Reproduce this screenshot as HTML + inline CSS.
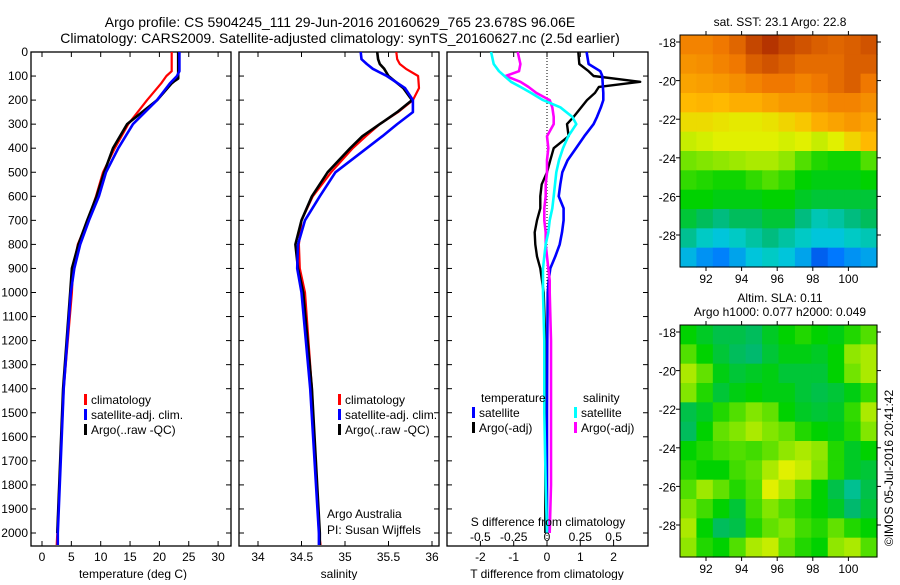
<!DOCTYPE html>
<html><head><meta charset="utf-8"><style>
html,body{margin:0;padding:0;background:#fff;}
svg text{font-family:"Liberation Sans",sans-serif;fill:#000;}
</style></head><body>
<svg id="fig" width="900" height="580" viewBox="0 0 900 580" xmlns="http://www.w3.org/2000/svg">
<text x="340" y="27" font-size="14" text-anchor="middle">Argo profile: CS 5904245_111 29-Jun-2016 20160629_765 23.678S 96.06E</text>
<text x="340" y="43" font-size="14" text-anchor="middle">Climatology: CARS2009. Satellite-adjusted climatology: synTS_20160627.nc (2.5d earlier)</text>
<g id="p1"></g>
<g id="p2"></g>
<g id="p3"></g>
<g id="m1"></g>
<g id="m2"></g>
<text x="780" y="26" font-size="12" text-anchor="middle">sat. SST: 23.1  Argo: 22.8</text>
<text x="780" y="302" font-size="12" text-anchor="middle">Altim. SLA: 0.11</text>
<text x="780" y="316" font-size="12" text-anchor="middle">Argo h1000: 0.077 h2000: 0.049</text>
<text x="0" y="0" font-size="12" text-anchor="middle" transform="translate(893,468) rotate(-90)">©IMOS 05-Jul-2016 20:41:42</text>
</svg>
<script>
// ---------- data ----------
const depthT = [0,80,100,130,200,300,400,500,600,700,800,900,1000,1400,2000,2050];
const tempClim = [22.1,22.1,21.2,20.3,17.9,14.7,12.4,10.4,9.2,7.8,6.1,5.3,5.1,3.7,2.6,2.5];
const tempSat  = [23.4,23.4,23.0,21.8,19.6,15.5,13.0,10.9,9.7,8.0,6.5,5.5,4.9,3.7,2.7,2.7];
const depthArgo = [0,50,110,120,130,200,300,400,500,600,700,800,900,1000,1400,2000];
const tempArgo = [23.2,23.2,23.2,22.6,22.1,19.6,14.5,12.1,10.6,9.3,7.7,6.2,5.1,4.8,3.6,2.6];
const depthS = [0,30,50,70,100,150,200,250,300,350,400,500,600,700,800,900,1000,1400,2000,2050];
const salClim = [35.59,35.60,35.63,35.70,35.84,35.85,35.78,35.61,35.40,35.24,35.09,34.84,34.63,34.50,34.47,34.48,34.54,34.62,34.70,34.72];
const salSat  = [35.18,35.19,35.25,35.32,35.48,35.69,35.78,35.78,35.60,35.43,35.25,34.89,34.71,34.54,34.46,34.45,34.50,34.60,34.70,34.70];
const salArgo = [35.37,35.38,35.40,35.45,35.50,35.67,35.77,35.60,35.40,35.20,35.06,34.80,34.62,34.50,34.43,34.46,34.52,34.62,34.71,34.71];
const depthD = [0,50,80,100,124,145,170,200,230,270,300,350,400,450,500,550,600,650,700,750,800,850,900,950,1000,1200,1500,1800,2000];
const dTArgo = [0.94,0.97,1.25,1.4,2.8,1.56,1.44,1.2,1.03,0.8,0.6,0.65,0.2,0.1,0.0,-0.16,-0.2,-0.2,-0.3,-0.37,-0.35,-0.3,-0.2,-0.15,-0.1,-0.05,-0.05,-0.05,-0.05];
const dTSat  = [1.19,1.25,1.6,1.66,1.67,1.68,1.69,1.69,1.62,1.5,1.4,1.12,0.87,0.62,0.46,0.4,0.35,0.5,0.5,0.45,0.38,0.25,0.1,0.05,0.02,0.01,0.0,0.0,0.0];
const dSSat  = [-0.42,-0.4,-0.36,-0.32,-0.27,-0.2,-0.12,-0.03,0.1,0.19,0.22,0.16,0.12,0.09,0.07,0.06,0.05,0.04,0.02,0.01,-0.01,-0.02,-0.03,-0.03,-0.03,-0.02,-0.02,-0.01,0.0];
const dSArgo = [-0.22,-0.2,-0.21,-0.31,-0.2,-0.14,-0.08,0.02,0.04,0.05,0.05,0.0,0.01,0.0,0.0,-0.01,-0.01,-0.02,-0.02,-0.01,-0.01,0.0,0.01,0.02,0.02,0.03,0.03,0.03,0.02];
const depthTicks = [0,100,200,300,400,500,600,700,800,900,1000,1100,1200,1300,1400,1500,1600,1700,1800,1900,2000];
const tempTicks = [0,5,10,15,20,25,30];
const salTicks = [34,34.5,35,35.5,36];
const dTTicks = [-2,-1,0,1,2];
const dSTicks = [-0.5,-0.25,0,0.25,0.5];
const dSTickLabels = ['-0.5','-0.25','0','0.25','0.5'];
const mapLon = [92,94,96,98,100];
const mapLat = [-18,-20,-22,-24,-26,-28];
const sstGrid = [
[0.80,0.80,0.82,0.85,0.90,0.93,0.90,0.88,0.86,0.85,0.86,0.88],
[0.77,0.78,0.80,0.82,0.86,0.88,0.86,0.84,0.84,0.84,0.86,0.86],
[0.74,0.75,0.76,0.78,0.80,0.82,0.82,0.80,0.82,0.84,0.86,0.82],
[0.70,0.71,0.70,0.72,0.72,0.74,0.76,0.76,0.78,0.80,0.80,0.78],
[0.65,0.65,0.64,0.63,0.63,0.64,0.66,0.68,0.72,0.74,0.76,0.74],
[0.60,0.61,0.62,0.62,0.62,0.62,0.61,0.62,0.60,0.62,0.66,0.70],
[0.54,0.55,0.56,0.57,0.58,0.58,0.56,0.52,0.49,0.48,0.48,0.52],
[0.50,0.49,0.48,0.48,0.50,0.52,0.50,0.47,0.46,0.46,0.46,0.47],
[0.47,0.47,0.46,0.46,0.46,0.47,0.47,0.45,0.44,0.44,0.44,0.44],
[0.44,0.42,0.40,0.42,0.42,0.44,0.44,0.40,0.37,0.38,0.40,0.42],
[0.39,0.36,0.34,0.36,0.38,0.40,0.38,0.36,0.34,0.34,0.36,0.37],
[0.32,0.28,0.26,0.30,0.34,0.36,0.34,0.30,0.22,0.25,0.28,0.30]];
const slaGrid = [
[0.47,0.45,0.43,0.43,0.42,0.45,0.47,0.49,0.47,0.46,0.49,0.52],
[0.52,0.47,0.44,0.42,0.41,0.44,0.46,0.46,0.45,0.47,0.56,0.58],
[0.58,0.53,0.46,0.44,0.45,0.46,0.44,0.44,0.44,0.47,0.54,0.58],
[0.55,0.49,0.44,0.46,0.47,0.46,0.46,0.44,0.43,0.44,0.46,0.50],
[0.43,0.45,0.49,0.52,0.55,0.53,0.47,0.45,0.44,0.45,0.50,0.58],
[0.42,0.47,0.53,0.55,0.58,0.55,0.53,0.49,0.47,0.46,0.49,0.55],
[0.47,0.49,0.51,0.52,0.51,0.53,0.56,0.58,0.56,0.49,0.45,0.47],
[0.49,0.47,0.47,0.51,0.53,0.58,0.62,0.60,0.55,0.49,0.45,0.44],
[0.52,0.57,0.53,0.49,0.52,0.62,0.58,0.53,0.47,0.43,0.39,0.43],
[0.55,0.51,0.47,0.44,0.51,0.55,0.52,0.49,0.47,0.45,0.41,0.44],
[0.58,0.47,0.42,0.43,0.49,0.53,0.55,0.51,0.49,0.53,0.49,0.47],
[0.56,0.49,0.47,0.52,0.58,0.60,0.53,0.49,0.47,0.56,0.58,0.52]];

// ---------- helpers ----------
const NS='http://www.w3.org/2000/svg';
function mk(parent,tag,attrs){const e=document.createElementNS(NS,tag);for(const k in attrs)e.setAttribute(k,attrs[k]);parent.appendChild(e);return e;}
const Y0=52, PB=546;
const yD = d => Y0 + d*0.2405;
const xT = t => 42 + t*5.87;
const xS = s => 258 + (s-34)*87;
const xDT = v => 547 + v*33.3;
const xDS = v => 547 + v*133.2;

function panel(g,x0,x1,name){
  const r=mk(g,'rect',{x:x0,y:Y0,width:x1-x0,height:PB-Y0,fill:'none',stroke:'#000','stroke-width':1.3});
  
  
  depthTicks.forEach(d=>{
    mk(g,'line',{x1:x0,x2:x0+5,y1:yD(d),y2:yD(d),stroke:'#000'});
    mk(g,'line',{x1:x1,x2:x1-5,y1:yD(d),y2:yD(d),stroke:'#000'});
  });
}
function xticks(g,vals,fx,labels,ly){
  vals.forEach((v,i)=>{
    const x=fx(v);
    mk(g,'line',{x1:x,x2:x,y1:Y0,y2:Y0+5,stroke:'#000'});
    mk(g,'line',{x1:x,x2:x,y1:PB,y2:PB-5,stroke:'#000'});
    if(labels){const t=mk(g,'text',{x:x,y:ly,'font-size':12,'text-anchor':'middle'});t.textContent=labels[i];
      
      }
  });
}
function line(g,xs,ds,fx,color,w,name){
  const pts=xs.map((v,i)=>fx(v).toFixed(1)+','+yD(ds[i]).toFixed(1)).join(' ');
  const p=mk(g,'polyline',{points:pts,fill:'none',stroke:color,'stroke-width':w,'stroke-linejoin':'round'});
  
  
}
function txt(g,x,y,s,size,anchor,name){
  const t=mk(g,'text',{x:x,y:y,'font-size':size||12,'text-anchor':anchor||'start'});t.textContent=s;
  
  
  return t;
}
function legend(g,x,y,items){
  items.forEach((it,i)=>{
    mk(g,'rect',{x:x,y:y+i*15-10,width:3,height:11,fill:it[1]});
    txt(g,x+7,y+i*15,it[0],12,'start','legend-entry');
  });
}

// ---------- panel 1 ----------
const p1=document.getElementById('p1');
panel(p1,31,231,'temperature-panel');
depthTicks.forEach(d=>txt(p1,28,yD(d)+4,String(d),12,'end','depth-tick-label'));
xticks(p1,tempTicks,xT,tempTicks.map(String),561);
txt(p1,133,578,'temperature (deg C)',12,'middle','x-axis-title');
line(p1,tempClim,depthT,xT,'#ff0000',2.2,'temp-climatology-line');
line(p1,tempArgo,depthArgo,xT,'#000',2.6,'temp-argo-line');
line(p1,tempSat,depthT,xT,'#0000ff',2.6,'temp-satellite-line');
legend(p1,84,404,[['climatology','#f00'],['satellite-adj. clim.','#00f'],['Argo(..raw -QC)','#000']]);

// ---------- panel 2 ----------
const p2=document.getElementById('p2');
panel(p2,239,439,'salinity-panel');
xticks(p2,salTicks,xS,['34','34.5','35','35.5','36'],561);
txt(p2,339,578,'salinity',12,'middle','x-axis-title');
line(p2,salClim,depthS,xS,'#ff0000',2.2,'sal-climatology-line');
line(p2,salArgo,depthS,xS,'#000',2.6,'sal-argo-line');
line(p2,salSat,depthS,xS,'#0000ff',2.6,'sal-satellite-line');
legend(p2,338,404,[['climatology','#f00'],['satellite-adj. clim.','#00f'],['Argo(..raw -QC)','#000']]);
txt(p2,327,518,'Argo Australia',12,'start','argo-australia-note');
txt(p2,327,534,'PI: Susan Wijffels',12,'start','pi-note');

// ---------- panel 3 ----------
const p3=document.getElementById('p3');
panel(p3,447,648,'difference-panel');
xticks(p3,dTTicks,xDT,dTTicks.map(String),561);
mk(p3,'line',{x1:547,x2:547,y1:Y0,y2:PB,stroke:'#000','stroke-dasharray':'1,2'});
line(p3,dTArgo,depthD,xDT,'#000',2.4,'temp-diff-argo-line');
line(p3,dTSat,depthD,xDT,'#0000ff',2.6,'temp-diff-satellite-line');
line(p3,dSArgo,depthD,xDS,'#ff00ff',2.6,'sal-diff-argo-line');
line(p3,dSSat,depthD,xDS,'#00ffff',2.6,'sal-diff-satellite-line');
txt(p3,548,526,'S difference from climatology',12,'middle','s-axis-title');
dSTicks.forEach((v,i)=>txt(p3,xDS(v),541,dSTickLabels[i],12,'middle','s-tick-label'));
txt(p3,547,578,'T difference from climatology',12,'middle','x-axis-title');
txt(p3,481,402,'temperature',12,'start','legend-title-temperature');
txt(p3,583,402,'salinity',12,'start','legend-title-salinity');
legend(p3,472,417,[['satellite','#00f'],['Argo(-adj)','#000']]);
legend(p3,574,417,[['satellite','#0ff'],['Argo(-adj)','#f0f']]);

// ---------- maps ----------
const cstops=[[0.15,[0,40,200]],[0.25,[0,120,255]],[0.35,[0,205,215]],[0.41,[0,185,110]],[0.47,[0,210,0]],[0.55,[130,230,0]],[0.62,[225,240,0]],[0.70,[255,185,0]],[0.82,[240,120,0]],[0.95,[170,40,0]]];
function cmap(v){
  if(v<=cstops[0][0])return 'rgb('+cstops[0][1]+')';
  for(let i=1;i<cstops.length;i++){if(v<=cstops[i][0]){const a=cstops[i-1],b=cstops[i],f=(v-a[0])/(b[0]-a[0]);
    return 'rgb('+a[1].map((c,j)=>Math.round(c+(b[1][j]-c)*f)).join(',')+')';}}
  return 'rgb('+cstops[cstops.length-1][1]+')';
}
function drawMap(g,grid,top,bot,latTop,name){
  const x0=680,x1=877;
  const xLon=lon=>706+(lon-92)*17.8;
  const yLat=lat=>latTop+(-18-lat)*19.3;
  const rows=grid.length,cols=grid[0].length,cw=(x1-x0)/cols,ch=(bot-top)/rows;
  grid.forEach((row,r)=>row.forEach((v,c)=>{
    const cell=mk(g,'rect',{x:(x0+c*cw).toFixed(2),y:(top+r*ch).toFixed(2),width:(cw+0.6).toFixed(2),height:(ch+0.6).toFixed(2),fill:cmap(v)});
    
    
  }));
  mk(g,'rect',{x:x0,y:top,width:x1-x0,height:bot-top,fill:'none',stroke:'#000','stroke-width':1});
  mapLon.forEach(l=>{
    mk(g,'line',{x1:xLon(l),x2:xLon(l),y1:top,y2:top-4,stroke:'#000'});
    mk(g,'line',{x1:xLon(l),x2:xLon(l),y1:bot,y2:bot+4,stroke:'#000'});
    txt(g,xLon(l),bot+16,String(l),12,'middle','lon-tick-label');
  });
  mapLat.forEach(l=>{
    mk(g,'line',{x1:x0,x2:x0-4,y1:yLat(l),y2:yLat(l),stroke:'#000'});
    mk(g,'line',{x1:x1,x2:x1+4,y1:yLat(l),y2:yLat(l),stroke:'#000'});
    txt(g,x0-4,yLat(l)+5,String(l),12,'end','lat-tick-label');
  });
}
drawMap(document.getElementById('m1'),sstGrid,35,267,42,'sst');
drawMap(document.getElementById('m2'),slaGrid,325,557,332,'sla');
</script>
</body></html>
